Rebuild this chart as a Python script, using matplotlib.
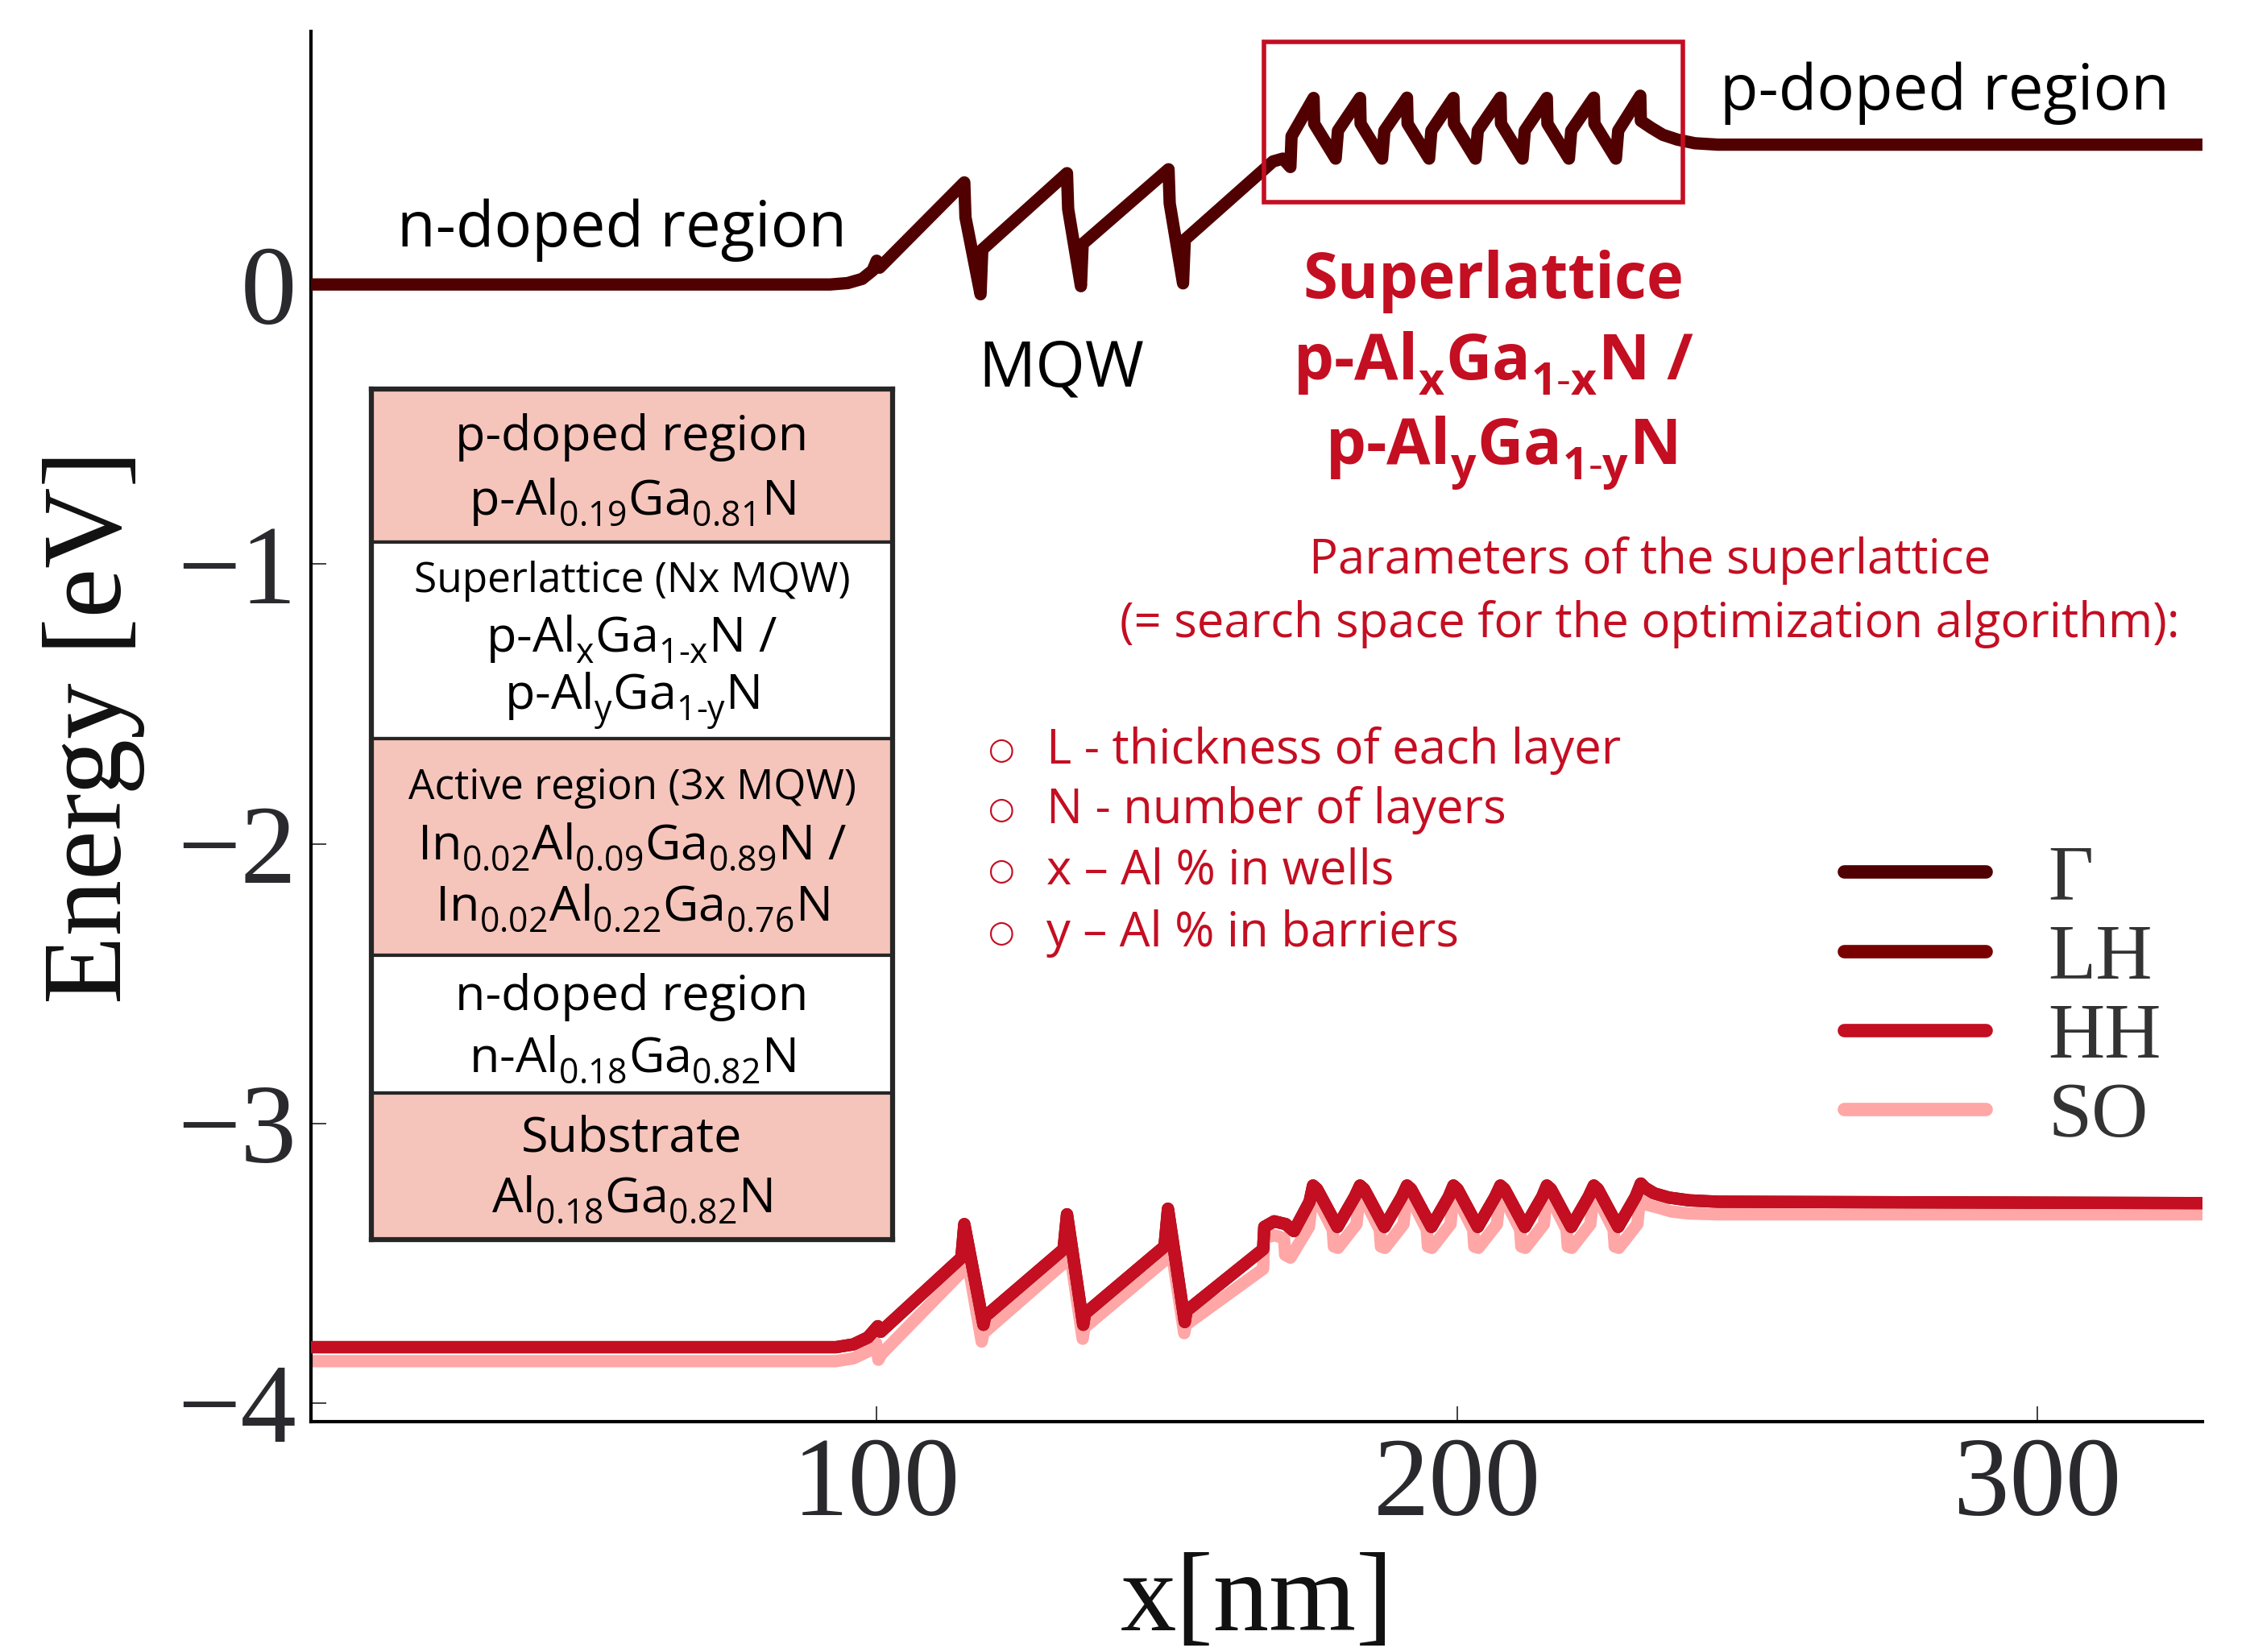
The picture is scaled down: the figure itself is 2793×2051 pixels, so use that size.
import matplotlib.pyplot as plt
import matplotlib._mathtext as mathtext_internals
from matplotlib.patches import Rectangle

plt.rcParams['font.family'] = 'Liberation Serif'
plt.rcParams['mathtext.fontset'] = 'custom'
plt.rcParams['mathtext.rm'] = 'Open Sans'
plt.rcParams['mathtext.default'] = 'regular'
# subscripts sit a bit lower in the original figure
mathtext_internals.FontConstantsBase.sub1 = 0.45

# band edges: x in nm, energy in eV
gamma_x = [0.0, 92.0, 95.0, 97.5, 99.3, 100.0, 100.5,
           115.1, 115.3, 117.9, 118.2,
           132.8, 133.0, 135.2, 135.5,
           150.3, 150.5, 152.8, 153.1,
           168.3, 170.0, 171.3, 171.5,
           175.3, 175.4, 179.1, 179.5,
           183.3, 183.4, 187.1, 187.5,
           191.4, 191.5, 195.2, 195.6,
           199.4, 199.5, 203.2, 203.6,
           207.5, 207.6, 211.3, 211.7,
           215.5, 215.6, 219.3, 219.7,
           223.6, 223.7, 227.4, 227.8,
           231.6, 231.7, 233.5, 235.5, 238.0, 241.0, 245.0, 330.0]
gamma_y = [0.0, 0.0, 0.005, 0.02, 0.05, 0.085, 0.06,
           0.365, 0.24, -0.035, 0.125,
           0.398, 0.27, -0.006, 0.145,
           0.412, 0.29, 0.004, 0.16,
           0.44, 0.45, 0.42, 0.53,
           0.667, 0.575, 0.45, 0.55,
           0.667, 0.575, 0.45, 0.55,
           0.668, 0.575, 0.45, 0.55,
           0.667, 0.575, 0.45, 0.55,
           0.668, 0.575, 0.45, 0.55,
           0.667, 0.575, 0.45, 0.55,
           0.668, 0.575, 0.45, 0.55,
           0.675, 0.585, 0.56, 0.535, 0.518, 0.505, 0.50, 0.50]

hh_x = [0.0, 93.0, 96.0, 98.5, 100.2, 100.7,
        114.6, 115.1, 118.4, 118.7,
        132.2, 132.8, 135.6, 135.9,
        149.6, 150.2, 153.1, 153.4,
        166.6, 166.8, 168.5, 170.5, 171.9, 174.6,
        175.2, 175.9, 179.4, 182.4,
        183.3, 184.0, 187.5, 190.5,
        191.4, 192.1, 195.6, 198.6,
        199.4, 200.1, 203.6, 206.6,
        207.5, 208.2, 211.7, 214.7,
        215.5, 216.2, 219.7, 222.7,
        223.6, 224.3, 227.8, 230.8,
        231.7, 232.4, 234.0, 236.5, 240.0, 245.0, 330.0]
hh_y = [-3.80, -3.80, -3.79, -3.765, -3.725, -3.745,
        -3.48, -3.36, -3.72, -3.69,
        -3.45, -3.325, -3.72, -3.68,
        -3.44, -3.305, -3.71, -3.67,
        -3.45, -3.37, -3.35, -3.36, -3.385, -3.28,
        -3.222, -3.235, -3.37, -3.262,
        -3.222, -3.235, -3.37, -3.262,
        -3.222, -3.235, -3.37, -3.262,
        -3.222, -3.235, -3.37, -3.262,
        -3.222, -3.235, -3.37, -3.262,
        -3.222, -3.235, -3.37, -3.262,
        -3.222, -3.235, -3.37, -3.262,
        -3.215, -3.23, -3.25, -3.265, -3.275, -3.28, -3.285]

# LH is not visible in the figure, it lies under HH
lh_x = hh_x
lh_y = hh_y

so_x = [0.0, 93.0, 96.0, 98.5, 99.9, 100.3, 100.8,
        114.7, 115.0, 118.1, 118.4,
        132.2, 132.7, 135.5, 135.8,
        149.6, 150.1, 153.0, 153.3,
        166.6, 166.8, 168.5, 170.2, 170.4, 171.3, 174.5,
        175.2, 178.6, 178.8, 179.5, 182.7,
        183.3, 186.7, 186.9, 187.6, 190.8,
        191.4, 194.8, 195.0, 195.7, 198.9,
        199.4, 202.8, 203.0, 203.7, 206.9,
        207.5, 210.9, 211.1, 211.8, 215.0,
        215.5, 218.9, 219.1, 219.8, 223.0,
        223.6, 227.0, 227.2, 227.9, 231.1,
        231.7, 232.3, 232.6, 234.5, 237.0, 240.0, 245.0, 330.0]
so_y = [-3.85, -3.85, -3.84, -3.815, -3.785, -3.845, -3.825,
        -3.53, -3.41, -3.78, -3.75,
        -3.50, -3.375, -3.77, -3.73,
        -3.49, -3.355, -3.75, -3.72,
        -3.52, -3.41, -3.40, -3.41, -3.47, -3.48, -3.37,
        -3.24, -3.38, -3.44, -3.445, -3.36,
        -3.24, -3.38, -3.44, -3.445, -3.36,
        -3.24, -3.38, -3.44, -3.445, -3.36,
        -3.24, -3.38, -3.44, -3.445, -3.36,
        -3.24, -3.38, -3.44, -3.445, -3.36,
        -3.24, -3.38, -3.44, -3.445, -3.36,
        -3.24, -3.38, -3.44, -3.445, -3.36,
        -3.235, -3.26, -3.29, -3.30, -3.315, -3.322, -3.325, -3.325]

band_names = ['\u0393', 'LH', 'HH', 'SO']
band_colors = ['#500000', '#7a0000', '#c30f21', '#ffa6a6']

x_ticks = [100, 200, 300]
y_ticks = [-4, -3, -2, -1, 0]

# layer stack shown in the inset table (top to bottom)
layer_lines = [
    ['p-doped region', 'p-Al$_{0.19}$Ga$_{0.81}$N'],
    ['Superlattice (Nx MQW)', 'p-Al$_x$Ga$_{1\\text{-}x}$N /', 'p-Al$_y$Ga$_{1\\text{-}y}$N'],
    ['Active region (3x MQW)', 'In$_{0.02}$Al$_{0.09}$Ga$_{0.89}$N /', 'In$_{0.02}$Al$_{0.22}$Ga$_{0.76}$N'],
    ['n-doped region', 'n-Al$_{0.18}$Ga$_{0.82}$N'],
    ['Substrate', 'Al$_{0.18}$Ga$_{0.82}$N'],
]
layer_colors = ['#f5c5bb', 'white', '#f5c5bb', 'white', '#f5c5bb']

params = ['L - thickness of each layer', 'N - number of layers',
          'x \u2013 Al % in wells', 'y \u2013 Al % in barriers']

red = '#c40e22'
sans = 'Open Sans'

fig = plt.figure(figsize=(27.93, 20.51), dpi=100)
ax = fig.add_axes([0.1382, 0.1395, 0.8407, 0.8415])

lw = 11
l_so, = ax.plot(so_x, so_y, color=band_colors[3], lw=lw, solid_joinstyle='round', solid_capstyle='round', zorder=2)
l_lh, = ax.plot(lh_x, lh_y, color=band_colors[1], lw=lw, solid_joinstyle='round', solid_capstyle='round', zorder=3)
l_hh, = ax.plot(hh_x, hh_y, color=band_colors[2], lw=lw, solid_joinstyle='round', solid_capstyle='round', zorder=4)
l_g, = ax.plot(gamma_x, gamma_y, color=band_colors[0], lw=lw, solid_joinstyle='round', solid_capstyle='round', zorder=5)

ax.set_xlim(2.5, 328.5)
ax.set_ylim(-4.066, 0.905)
ax.set_xticks(x_ticks)
ax.set_yticks(y_ticks)
for s in ['top', 'right']:
    ax.spines[s].set_visible(False)
for s in ['left', 'bottom']:
    ax.spines[s].set_linewidth(3)
ax.tick_params(direction='in', length=14, width=1.3, color='#333333',
               labelsize=100, labelcolor='#2a2a2e')
ax.tick_params(axis='x', pad=14)
ax.tick_params(axis='y', pad=13)

ax.set_ylabel('Energy [eV]', fontsize=100, color='#111111')
ax.yaxis.set_label_coords(-0.0877, 0.5)
ax.set_xlabel('x[nm]', fontsize=100, color='#111111')
ax.xaxis.set_label_coords(0.5, -0.094)

leg = ax.legend([l_g, l_lh, l_hh, l_so], band_names, loc='center left',
                bbox_to_anchor=(0.8103, 0.304), frameon=False, fontsize=70,
                handlelength=1.81, handletextpad=0.8, labelspacing=0.095,
                borderpad=0, borderaxespad=0, labelcolor='#333333')
for h in leg.get_lines():
    h.set_linewidth(12)

# annotations
ax.text(56.1, 0.196, 'n-doped region', family=sans, fontsize=56, ha='center', va='center')
ax.text(284.0, 0.686, 'p-doped region', family=sans, fontsize=56, ha='center', va='center')
ax.text(131.8, -0.305, 'MQW', family=sans, fontsize=57, ha='center', va='center')

ax.add_patch(Rectangle((166.8, 0.294), 72.2, 0.573, fill=False, edgecolor=red,
                       lw=4, clip_on=False, zorder=6))
ax.text(206.3, 0.012, 'Superlattice', family=sans, fontsize=56, fontweight='bold',
        color=red, ha='center', va='center')
ax.text(206.3, -0.283, 'p-Al$_x$Ga$_{1\\text{-}x}$N /', family=sans, fontsize=57,
        fontweight='bold', color=red, ha='center', va='center')
ax.text(207.6, -0.605, 'p-Al$_y$Ga$_{1\\text{-}y}$N', family=sans, fontsize=57,
        fontweight='bold', color=red, ha='center', va='center')

ax.text(233.2, -0.988, 'Parameters of the superlattice', family=sans, fontsize=43,
        color=red, ha='center', va='center')
ax.text(233.2, -1.216, '(= search space for the optimization algorithm):', family=sans,
        fontsize=43, color=red, ha='center', va='center')
param_y = [-1.666, -1.879, -2.098, -2.32]
for py, txt in zip(param_y, params):
    ax.text(121.5, py, '\u25cb', family='DejaVu Sans', fontsize=27, color=red,
            ha='center', va='center')
    ax.text(129.3, py, txt, family=sans, fontsize=43, color=red, ha='left', va='center')

# layer table
tab = fig.add_axes([0.16506, 0.24963, 0.23165, 0.51487])
tab.set_xlim(0, 647)
tab.set_ylim(1056, 0)
tab.set_xticks([])
tab.set_yticks([])
for s in tab.spines.values():
    s.set_linewidth(4.5)
    s.set_color('#262626')
row_edges = [0, 190, 434, 703, 874, 1056]
row_text_y = [[60, 140], [238, 311, 388], [495, 568, 644], [755, 832], [930, 1006]]
for i, lines in enumerate(layer_lines):
    tab.add_patch(Rectangle((0, row_edges[i]), 647, row_edges[i + 1] - row_edges[i],
                            facecolor=layer_colors[i], edgecolor='#262626', lw=3))
    for j, (ty, txt) in enumerate(zip(row_text_y[i], lines)):
        size = 37 if (j == 0 and len(lines) == 3) else 44
        tab.text(323.5, ty, txt, family=sans, fontsize=size, ha='center', va='center')

fig.savefig('out.png', dpi=100)
